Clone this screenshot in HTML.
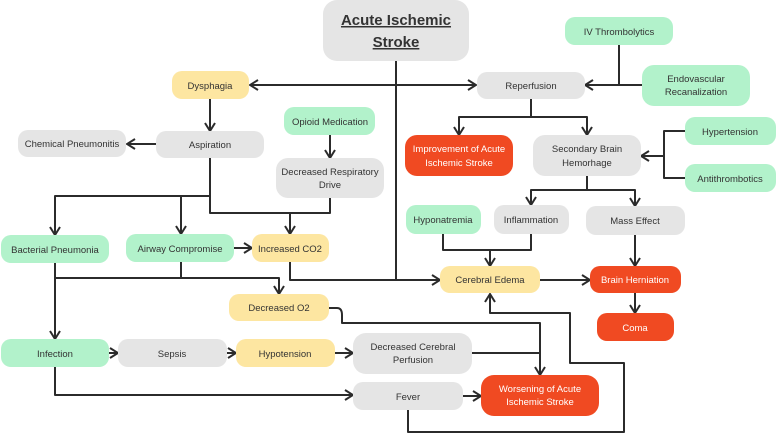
<!DOCTYPE html>
<html><head><meta charset="utf-8"><style>
html,body{margin:0;padding:0;background:#fff;}
svg{display:block;}
text{font-family:"Liberation Sans",sans-serif;font-size:9.5px;fill:#333;text-anchor:middle;}
.w{fill:#fff;}
.ln{fill:none;stroke:#2b2b2b;stroke-width:2;stroke-linejoin:round;}
</style></head><body>
<svg width="777" height="434" viewBox="0 0 777 434" xmlns="http://www.w3.org/2000/svg">
<defs>
<marker id="a" viewBox="0 0 10 12" refX="9" refY="6" markerWidth="10" markerHeight="12" markerUnits="userSpaceOnUse" orient="auto">
<path d="M1,1 L9,6 L1,11" fill="none" stroke="#2b2b2b" stroke-width="2"/>
</marker>
</defs>
<!-- connectors -->
<g class="ln">
<path d="M396,61 V280 H440" marker-end="url(#a)"/>
<path d="M396,85 H250" marker-end="url(#a)"/>
<path d="M396,85 H476" marker-end="url(#a)"/>
<path d="M210,99 V131" marker-end="url(#a)"/>
<path d="M156,144 H127" marker-end="url(#a)"/>
<path d="M210,158 V196 H55 V235" marker-end="url(#a)"/>
<path d="M181,196 V234" marker-end="url(#a)"/>
<path d="M210,196 V213 H290 V234" marker-end="url(#a)"/>
<path d="M330,198 V213 H290"/>
<path d="M330,135 V158" marker-end="url(#a)"/>
<path d="M234,248 H252" marker-end="url(#a)"/>
<path d="M55,263 V339" marker-end="url(#a)"/>
<path d="M55,278 H279 V294" marker-end="url(#a)"/>
<path d="M181,262 V278"/>
<path d="M290,262 V280 H396"/>
<path d="M329,308 H337 Q342,308 342,315 V323 H540 V375" marker-end="url(#a)"/>
<path d="M472,353 H540"/>
<path d="M109,353 H118" marker-end="url(#a)"/>
<path d="M227,353 H236" marker-end="url(#a)"/>
<path d="M335,353 H353" marker-end="url(#a)"/>
<path d="M55,367 V395 H353" marker-end="url(#a)"/>
<path d="M463,396 H481" marker-end="url(#a)"/>
<path d="M408,410 V432 H624 V363 H570 V313 H490 V294" marker-end="url(#a)"/>
<path d="M540,280 H590" marker-end="url(#a)"/>
<path d="M635,235 V266" marker-end="url(#a)"/>
<path d="M635,293 V313" marker-end="url(#a)"/>
<path d="M443,234 V250 H490 V266" marker-end="url(#a)"/>
<path d="M531,234 V250 H490"/>
<path d="M587,176 V190 H531 V205" marker-end="url(#a)"/>
<path d="M587,190 H635 V206" marker-end="url(#a)"/>
<path d="M531,99 V117 H459 V135" marker-end="url(#a)"/>
<path d="M531,117 H587 V135" marker-end="url(#a)"/>
<path d="M619,45 V85"/>
<path d="M642,85 H585" marker-end="url(#a)"/>
<path d="M685,131 H664 V178 H685"/>
<path d="M664,156 H641" marker-end="url(#a)"/>
</g>
<!-- nodes -->
<g>
<rect x="323" y="0" width="146" height="61" rx="14" fill="#e5e5e5"/>
<text x="396" y="25" style="font-size:15px;font-weight:bold;text-decoration:underline">Acute Ischemic</text>
<text x="396" y="47" style="font-size:15px;font-weight:bold;text-decoration:underline">Stroke</text>

<rect x="172" y="71" width="77" height="28" rx="10" fill="#fde6a1"/><text x="210" y="89">Dysphagia</text>
<rect x="156" y="131" width="108" height="27" rx="10" fill="#e5e5e5"/><text x="210" y="148">Aspiration</text>
<rect x="18" y="130" width="108" height="27" rx="10" fill="#e5e5e5"/><text x="72" y="147">Chemical Pneumonitis</text>
<rect x="284" y="107" width="91" height="28" rx="10" fill="#b2f2cb"/><text x="330" y="125">Opioid Medication</text>
<rect x="276" y="158" width="108" height="40" rx="12" fill="#e5e5e5"/><text x="330" y="175">Decreased Respiratory</text><text x="330" y="188">Drive</text>
<rect x="565" y="17" width="108" height="28" rx="10" fill="#b2f2cb"/><text x="619" y="35">IV Thrombolytics</text>
<rect x="477" y="72" width="108" height="27" rx="10" fill="#e5e5e5"/><text x="531" y="89">Reperfusion</text>
<rect x="642" y="65" width="108" height="41" rx="12" fill="#b2f2cb"/><text x="696" y="82">Endovascular</text><text x="696" y="95">Recanalization</text>
<rect x="405" y="135" width="108" height="41" rx="12" fill="#f04a22"/><text class="w" x="459" y="152">Improvement of Acute</text><text class="w" x="459" y="166">Ischemic Stroke</text>
<rect x="533" y="135" width="108" height="41" rx="12" fill="#e5e5e5"/><text x="587" y="152">Secondary Brain</text><text x="587" y="166">Hemorhage</text>
<rect x="685" y="117" width="91" height="28" rx="10" fill="#b2f2cb"/><text x="730" y="135">Hypertension</text>
<rect x="685" y="164" width="91" height="28" rx="10" fill="#b2f2cb"/><text x="730" y="182">Antithrombotics</text>
<rect x="406" y="205" width="75" height="29" rx="10" fill="#b2f2cb"/><text x="443" y="223">Hyponatremia</text>
<rect x="494" y="205" width="75" height="29" rx="10" fill="#e5e5e5"/><text x="531" y="223">Inflammation</text>
<rect x="586" y="206" width="99" height="29" rx="10" fill="#e5e5e5"/><text x="635" y="224">Mass Effect</text>
<rect x="440" y="266" width="100" height="27" rx="10" fill="#fde6a1"/><text x="490" y="283">Cerebral Edema</text>
<rect x="590" y="266" width="91" height="27" rx="10" fill="#f04a22"/><text class="w" x="635" y="283">Brain Herniation</text>
<rect x="597" y="313" width="77" height="28" rx="10" fill="#f04a22"/><text class="w" x="635" y="331">Coma</text>
<rect x="353" y="333" width="119" height="41" rx="13" fill="#e5e5e5"/><text x="413" y="350">Decreased Cerebral</text><text x="413" y="363">Perfusion</text>
<rect x="353" y="382" width="110" height="28" rx="10" fill="#e5e5e5"/><text x="408" y="400">Fever</text>
<rect x="481" y="375" width="118" height="41" rx="13" fill="#f04a22"/><text class="w" x="540" y="392">Worsening of Acute</text><text class="w" x="540" y="405">Ischemic Stroke</text>
<rect x="1" y="235" width="108" height="28" rx="10" fill="#b2f2cb"/><text x="55" y="253">Bacterial Pneumonia</text>
<rect x="126" y="234" width="108" height="28" rx="10" fill="#b2f2cb"/><text x="180" y="252">Airway Compromise</text>
<rect x="252" y="234" width="77" height="28" rx="10" fill="#fde6a1"/><text x="290" y="252">Increased CO2</text>
<rect x="229" y="294" width="100" height="27" rx="10" fill="#fde6a1"/><text x="279" y="311">Decreased O2</text>
<rect x="1" y="339" width="108" height="28" rx="10" fill="#b2f2cb"/><text x="55" y="357">Infection</text>
<rect x="118" y="339" width="109" height="28" rx="10" fill="#e5e5e5"/><text x="172" y="357">Sepsis</text>
<rect x="236" y="339" width="99" height="28" rx="10" fill="#fde6a1"/><text x="285" y="357">Hypotension</text>
</g>
</svg>
</body></html>
